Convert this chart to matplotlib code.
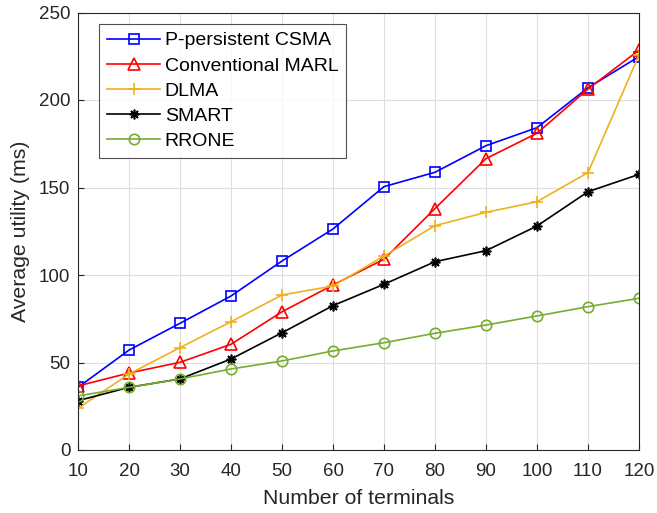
import matplotlib
matplotlib.use("Agg")
import matplotlib.pyplot as plt

plt.rcParams['font.family'] = ['Liberation Sans', 'DejaVu Sans']

terminals = [10, 20, 30, 40, 50, 60, 70, 80, 90, 100, 110, 120]
csma = [35.8, 57.1, 72.4, 88.0, 108.0, 126.3, 150.5, 158.7, 173.9, 184.2, 207.0, 224.8]
marl = [36.6, 44.0, 50.1, 60.4, 79.0, 94.3, 109.0, 138.0, 166.5, 181.0, 206.3, 228.5]
dlma = [23.8, 43.4, 58.5, 73.3, 88.6, 93.7, 110.8, 128.2, 135.8, 141.9, 158.5, 225.7]
smart = [28.2, 35.8, 40.6, 52.0, 67.0, 82.5, 94.7, 107.6, 113.9, 128.0, 147.6, 157.5]
rrone = [30.9, 35.8, 40.6, 46.3, 50.9, 56.6, 61.3, 66.7, 71.4, 76.6, 81.9, 86.7]

series = [
    ("P-persistent CSMA", csma, '#0000FF', 's', 7),
    ("Conventional MARL", marl, '#FF0000', '^', 8.5),
    ("DLMA", dlma, '#EDB120', '+', 9),
    ("SMART", smart, '#000000', (8, 2, 0), 7),
    ("RRONE", rrone, '#77AC30', 'o', 7.5),
]

W, H = 657, 513
fig = plt.figure(figsize=(W / 100, H / 100), dpi=100)
ax = fig.add_axes([78 / W, 1 - 450 / H, 561 / W, 437.5 / H])

for label, vals, color, marker, ms in series:
    ax.plot(terminals, vals, color=color, lw=1.2, marker=marker, ms=ms,
            mfc='none', mec=color, mew=1.2, label=label)

ax.set_xlim(10, 120)
ax.set_ylim(0, 250)
ax.set_xticks(range(10, 121, 10))
ax.set_yticks(range(0, 251, 50))
ax.grid(True, color='#DFDFDF', lw=0.8)
ax.set_axisbelow(True)
ax.tick_params(direction='in', labelsize=13.5, length=4, colors='#262626')
ax.tick_params(axis='y', pad=5.5)
ax.tick_params(axis='x', pad=9)
for s in ax.spines.values():
    s.set_color('#262626')
    s.set_linewidth(0.8)
ax.set_xlabel("Number of terminals", fontsize=15.3, color='#262626')
ax.set_ylabel("Average utility (ms)", fontsize=15.3, color='#262626')
ax.xaxis.set_label_coords(0.5, -(489 - 450) / 437.5)
ax.yaxis.set_label_coords((30 - 78) / 561, 0.5)

leg = ax.legend(loc='upper left', bbox_to_anchor=(99.3 / W, 1 - 24 / H),
                bbox_transform=fig.transFigure, borderaxespad=0,
                fontsize=14, frameon=True, fancybox=False,
                edgecolor='#262626', handlelength=2.73,
                handletextpad=0.23, labelspacing=0.39, borderpad=0.4,
                markerscale=1)
leg.get_frame().set_linewidth(0.8)

fig.savefig("out.png", dpi=100)
